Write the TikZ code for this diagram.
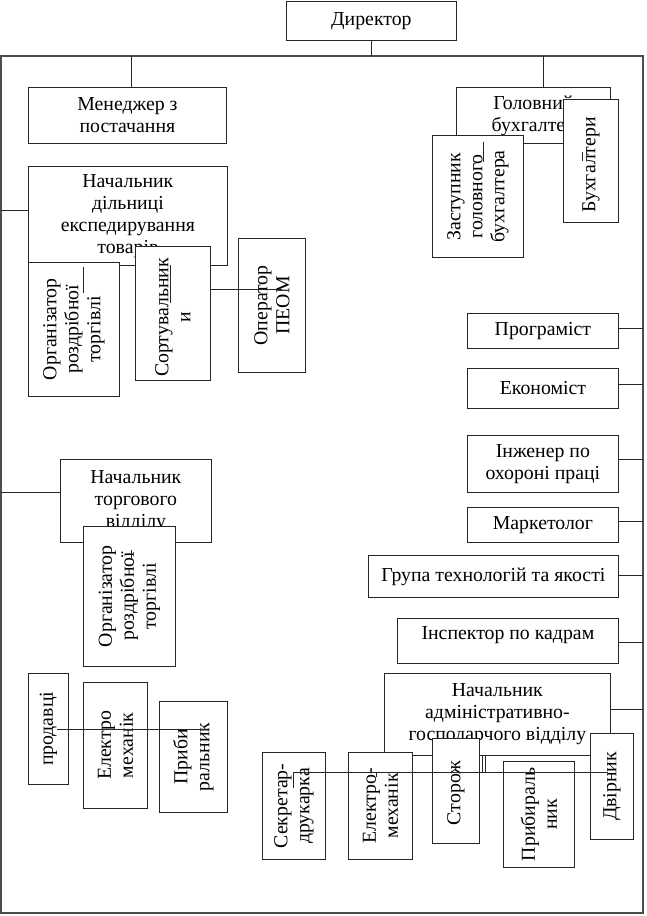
\documentclass[tikz,border=0pt]{standalone}
\usepackage{fontspec}
\setmainfont{Liberation Serif}
\usetikzlibrary{calc}
\newcommand{\txtfont}{\fontsize{19.8}{22}\selectfont}
\tikzset{
  box/.style={draw=black!85, fill=white, line width=0.8pt, inner sep=0pt, anchor=north west, font=\txtfont, align=center},
  rtext/.style={rotate=90, font=\txtfont, align=center, inner sep=0pt},
  wire/.style={draw=black!85, line width=0.8pt},
  frame/.style={draw=black!70, line width=1.3pt}
}
\newcommand{\mybox}[6]{\node[box, minimum width={(#4-#2)*1pt}, minimum height={(#5-#3)*1pt}] (#1) at (#2,#3) {#6};}
\newcommand{\myrbox}[7][0]{\node[box, minimum width={(#5-#3)*1pt}, minimum height={(#6-#4)*1pt}] (#2) at (#3,#4) {};
  \node[rtext, xshift=#1pt] at (#2.center) {#7};}
\begin{document}
\begin{tikzpicture}[x=1pt, y=-1pt]
\useasboundingbox (0,0) rectangle (647,916);
% frame (bus)
\coordinate (tl) at (1,56);
\coordinate (br) at (643,913);
\draw[frame] (tl) rectangle (br);

% boxes
\mybox{dir}{286}{1}{456}{40}{Директор}
\draw[wire] (dir.south) -- (dir.south |- tl);
\mybox{men}{28}{87}{226}{143}{Менеджер з\\постачання}
\mybox{gb}{456}{87}{610}{143}{Головний\\бухгалтер}
\coordinate (m1) at (131,56);
\coordinate (m2) at (543,56);
\draw[wire] (m1) -- (m1 |- men.north);
\draw[wire] (m2) -- (m2 |- gb.north);
\myrbox{zast}{432}{135}{523}{257}{Заступник\\головного\\бухгалтера}
\myrbox[-4]{buh}{563}{99}{618}{222}{Бухгалтери}

\mybox{nde}{28}{166}{227}{265}{Начальник\\дільниці\\експедирування\\товарів}
\coordinate (l1) at (1,210);
\draw[wire] (l1) -- (l1 -| nde.west);
\myrbox{org1}{28}{262}{119}{396}{Організатор\\роздрібної\\торгівлі}
\myrbox[-4]{sort}{135}{246}{210}{380}{Сортувальник\\и}
\myrbox{oper}{238}{238}{305}{372}{Оператор\\ПЕОМ}

\mybox{prog}{467}{313}{618}{348}{Програміст}
\mybox{econ}{467}{368}{618}{408}{Економіст}
\mybox{ing}{467}{435}{618}{492}{Інженер по\\охороні праці}
\mybox{mark}{467}{507}{618}{542}{Маркетолог}
\mybox{grup}{368}{555}{618}{597}{Група технологій та якості}
\mybox{insp}{397}{618}{618}{663}{Інспектор по кадрам\\[-6pt]}
\coordinate (r1) at (643,328);
\coordinate (r2) at (643,384);
\coordinate (r3) at (643,459);
\coordinate (r4) at (643,521);
\coordinate (r5) at (643,575);
\coordinate (r6) at (643,642);
\coordinate (r7) at (643,709);
\draw[wire] (r1) -- (r1 -| prog.east);
\draw[wire] (r2) -- (r2 -| econ.east);
\draw[wire] (r3) -- (r3 -| ing.east);
\draw[wire] (r4) -- (r4 -| mark.east);
\draw[wire] (r5) -- (r5 -| grup.east);
\draw[wire] (r6) -- (r6 -| insp.east);

\mybox{ntv}{60}{459}{211}{542}{Начальник\\торгового\\відділу}
\coordinate (l2) at (1,492);
\draw[wire] (l2) -- (l2 -| ntv.west);
\myrbox{org2}{83}{526}{175}{666}{Організатор\\роздрібної\\торгівлі}

\myrbox{prod}{28}{673}{68}{784}{продавці}
\myrbox{el1}{83}{682}{147}{808}{Електро\\механік}
\myrbox{pr1}{159}{701}{227}{812}{Приби\\ральник}

\mybox{nagv}{384}{673}{610}{755}{Начальник\\адміністративно-\\господарчого відділу}
\draw[wire] (r7) -- (r7 -| nagv.east);
\myrbox{sek}{262}{752}{325}{859}{Секретар-\\друкарка}
\myrbox{el2}{348}{752}{412}{859}{Електро-\\механік}
\myrbox[-2]{stor}{432}{738}{479}{843}{Сторож}
\myrbox{pr2}{503}{761}{574}{867}{Прибираль\\ник}
\myrbox{dvir}{590}{733}{633}{839}{Двірник}

% connectors drawn over the boxes
\coordinate (s1) at (282,289);
\draw[wire] (s1) -- (s1 -| sort.east);
\coordinate (p1) at (57,729);
\coordinate (p2) at (207,729);
\draw[wire] (p1) -- (p2);
\coordinate (b1) at (293,772);
\coordinate (b2) at (607,772);
\coordinate (b3) at (293,788);
\draw[wire] (b3) -- (b1) -- (b2);
\coordinate (v1) at (482,772);
\coordinate (v2) at (485,772);
\draw[wire] (v1) -- (v1 |- nagv.south);
\draw[wire] (v2) -- (v2 |- nagv.south);
\coordinate (e1) at (376,772);
\draw[wire] (e1) -- ++(0,5);
% short fragments inside the vertical boxes
\coordinate (f1) at (483,142);
\draw[wire] (f1) -- ++(0,20);
\coordinate (f2) at (582,152);
\draw[wire] (f2) -- ++(0,9);
\coordinate (f3) at (83,267);
\draw[wire] (f3) -- ++(0,26);
\coordinate (f4) at (170,265);
\draw[wire] (f4) -- ++(0,38);
\coordinate (f5) at (131,550);
\draw[wire] (f5) -- ++(0,8);
\end{tikzpicture}
\end{document}
